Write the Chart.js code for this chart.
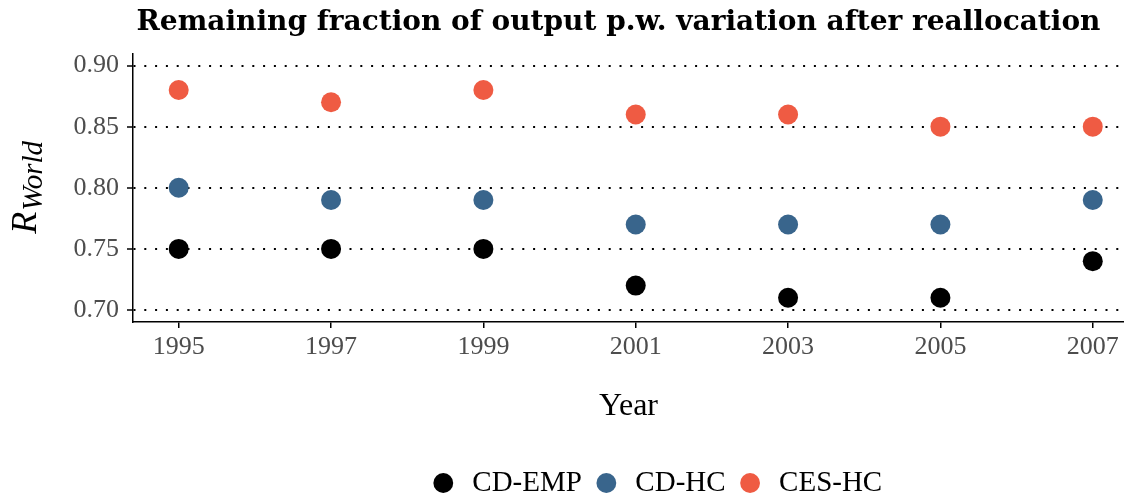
<!DOCTYPE html>
<html>
<head>
<meta charset="utf-8">
<title>Remaining fraction of output p.w. variation after reallocation</title>
<script src="https://cdn.jsdelivr.net/npm/chart.js@4.4.1/dist/chart.umd.min.js"></script>
<style>
  html, body { margin: 0; padding: 0; background: #ffffff; }
  #wrap { width: 1124px; height: 494px; }
</style>
</head>
<body>
<div id="wrap"><canvas id="chart" width="1124" height="494"></canvas></div>
<script>
// Data
const years = [1995, 1997, 1999, 2001, 2003, 2005, 2007];
const cdEmp = [0.75, 0.75, 0.75, 0.72, 0.71, 0.71, 0.74];
const cdHc = [0.80, 0.79, 0.79, 0.77, 0.77, 0.77, 0.79];
const cesHc = [0.88, 0.87, 0.88, 0.86, 0.86, 0.85, 0.85];
const yTicks = [0.70, 0.75, 0.80, 0.85, 0.90];
const seriesNames = ["CD-EMP", "CD-HC", "CES-HC"];
const seriesColors = ["#000000", "#39658C", "#EF5B43"];

const SERIF = "'Liberation Serif', 'DejaVu Serif', serif";

function toPoints(values) {
  return years.map((yr, i) => ({ x: yr, y: values[i] }));
}

// Draws the y axis title as R with the subscript World
const yLabelPlugin = {
  id: "yLabel",
  afterDraw(chart) {
    const ctx = chart.ctx;
    const area = chart.chartArea;
    ctx.save();
    ctx.translate(36, (area.top + area.bottom) / 2);
    ctx.rotate(-Math.PI / 2);
    ctx.fillStyle = "#000000";
    ctx.textBaseline = "alphabetic";
    ctx.textAlign = "left";
    ctx.font = "italic 36px " + SERIF;
    const rWidth = ctx.measureText("R").width;
    ctx.font = "italic 29px " + SERIF;
    const subWidth = ctx.measureText("World").width;
    const start = -(rWidth + subWidth) / 2;
    ctx.font = "italic 36px " + SERIF;
    ctx.fillText("R", start, 0);
    ctx.font = "italic 29px " + SERIF;
    ctx.fillText("World", start + rWidth + 1, 6);
    ctx.restore();
  }
};

// nudge title and legend to where ggplot put them
const boxShift = {
  id: "boxShift",
  afterLayout(chart) {
    if (chart.legend) {
      chart.legend.left += 54;
    }
    if (chart.titleBlock) {
      chart.titleBlock.left -= 20;
    }
  }
};

const ctx = document.getElementById("chart").getContext("2d");

new Chart(ctx, {
  type: "scatter",
  data: {
    datasets: [
      { label: seriesNames[0], data: toPoints(cdEmp), backgroundColor: seriesColors[0] },
      { label: seriesNames[1], data: toPoints(cdHc), backgroundColor: seriesColors[1] },
      { label: seriesNames[2], data: toPoints(cesHc), backgroundColor: seriesColors[2] },
    ].map((ds) => Object.assign(ds, {
      borderColor: ds.backgroundColor,
      borderWidth: 0,
      pointRadius: 10,
      pointHoverRadius: 10,
      pointStyle: "circle",
    })),
  },
  options: {
    responsive: false,
    animation: false,
    events: [],
    layout: {
      autoPadding: false,
      padding: { left: 0, right: 0, top: 0, bottom: -13.5 },
    },
    plugins: {
      title: {
        display: true,
        fullSize: false,
        text: "Remaining fraction of output p.w. variation after reallocation",
        color: "#000000",
        font: { family: "'DejaVu Serif', serif", size: 28, weight: "bold" },
        padding: { top: 6, bottom: 14 },
      },
      legend: {
        display: true,
        fullSize: false,
        position: "bottom",
        labels: {
          usePointStyle: true,
          boxWidth: 29,
          boxHeight: 14,
          padding: 10,
          color: "#000000",
          font: { family: SERIF, size: 29 },
        },
      },
      tooltip: { enabled: false },
    },
    scales: {
      x: {
        type: "linear",
        min: 1994.4,
        max: 2007.41,
        afterBuildTicks: (scale) => {
          scale.ticks = years.map((v) => ({ value: v }));
        },
        afterFit: (scale) => {
          scale.height = 136.5;
          scale.paddingLeft = 0;
          scale.paddingRight = 0;
        },
        ticks: {
          color: "#4D4D4D",
          font: { family: SERIF, size: 26 },
          padding: 4,
          maxRotation: 0,
          callback: (v) => String(v),
        },
        grid: {
          drawOnChartArea: false,
          drawTicks: true,
          tickLength: 6,
          color: "#000000",
          lineWidth: 1.5,
        },
        border: { display: true, color: "#000000", width: 1.5 },
        title: {
          display: true,
          text: "Year",
          color: "#000000",
          font: { family: SERIF, size: 32 },
          padding: { top: 0, bottom: 33 },
        },
      },
      y: {
        min: 0.6902,
        max: 0.9098,
        afterBuildTicks: (scale) => {
          scale.ticks = yTicks.map((v) => ({ value: v }));
        },
        afterFit: (scale) => {
          scale.width = 133;
          scale.paddingTop = 0;
          scale.paddingBottom = 0;
        },
        ticks: {
          color: "#4D4D4D",
          font: { family: SERIF, size: 26 },
          padding: 8,
          callback: (v) => v.toFixed(2),
        },
        grid: {
          drawOnChartArea: true,
          drawTicks: true,
          tickLength: 6,
          color: "#000000",
          lineWidth: 2,
          tickWidth: 1.5,
          tickBorderDash: [],
        },
        border: { display: true, color: "#000000", width: 1.5, dash: [2, 8.8] },
        title: { display: false },
      },
    },
  },
  plugins: [yLabelPlugin, boxShift],
});
</script>
</body>
</html>
